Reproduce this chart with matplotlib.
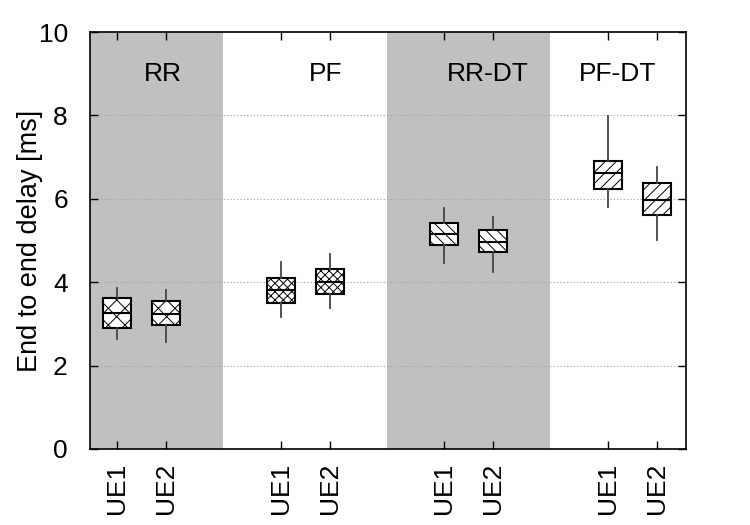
import matplotlib.pyplot as plt
import numpy as np

plt.rcParams["font.family"] = ["Liberation Sans", "DejaVu Sans"]
plt.rcParams["hatch.linewidth"] = 0.7

# Data, in ms
schemes = ["RR", "PF", "RR-DT", "PF-DT"]
ue_labels = ["UE1", "UE2"]
whisker_low = [2.63, 2.57, 3.16, 3.37, 4.47, 4.25, 5.80, 5.01]
box_low = [2.89, 2.96, 3.49, 3.71, 4.88, 4.73, 6.24, 5.61]
medians = [3.25, 3.24, 3.81, 4.00, 5.15, 4.97, 6.62, 5.96]
box_high = [3.61, 3.55, 4.09, 4.31, 5.41, 5.26, 6.90, 6.39]
whisker_high = [3.87, 3.80, 4.48, 4.68, 5.78, 5.56, 7.99, 6.76]
hatches = ["xx", "xxxx", "\\\\\\", "///"]

group_step = 10 / 3
positions = []
for g in range(len(schemes)):
    for k in range(len(ue_labels)):
        positions.append(g * group_step + k + 1)

stats = []
for i in range(len(positions)):
    stats.append({
        "whislo": whisker_low[i],
        "q1": box_low[i],
        "med": medians[i],
        "q3": box_high[i],
        "whishi": whisker_high[i],
        "fliers": [],
    })

fig = plt.figure(figsize=(7.5, 5.25), dpi=100)
ax = fig.add_axes([0.12, 0.145, 0.795, 0.794])

xmin, xmax = 0.45, 12.6
# shaded background for RR and RR-DT
for g in (0, 2):
    left = max(xmin, g * group_step + 1.5 - group_step / 2)
    right = g * group_step + 1.5 + group_step / 2
    ax.axvspan(left, right, color="#c0c0c0", lw=0, zorder=0)

for y in (2, 4, 6, 8):
    ax.axhline(y, color="#a0a0a0", lw=0.8, ls=(0, (1, 2)), zorder=0.5)

bp = ax.bxp(
    stats,
    positions=positions,
    widths=0.57,
    patch_artist=True,
    showcaps=False,
    boxprops=dict(facecolor="white", edgecolor="black", linewidth=1.5),
    medianprops=dict(color="black", linewidth=1.5),
    whiskerprops=dict(color="#444444", linewidth=1.3),
    zorder=2,
)
for i, box in enumerate(bp["boxes"]):
    box.set_hatch(hatches[i // 2])

label_x = [1.94, 5.25, 8.55, 11.2]
for name, lx in zip(schemes, label_x):
    ax.text(lx, 9.0, name, ha="center", va="center", fontsize=19)

ax.set_xlim(xmin, xmax)
ax.set_ylim(0, 10)
ax.set_xticks(positions)
ax.set_xticklabels(ue_labels * len(schemes), rotation=90, fontsize=19)
ax.set_yticks([0, 2, 4, 6, 8, 10])
ax.tick_params(direction="in", top=True, right=True, length=6, width=1)
ax.tick_params(axis="y", labelsize=19, pad=16)
ax.tick_params(axis="x", pad=10)
ax.set_ylabel("End to end delay [ms]", fontsize=19.5)
ax.yaxis.set_label_coords(-0.078, 0.5)
for s in ax.spines.values():
    s.set_linewidth(1.2)

fig.savefig("out.png", dpi=100)
